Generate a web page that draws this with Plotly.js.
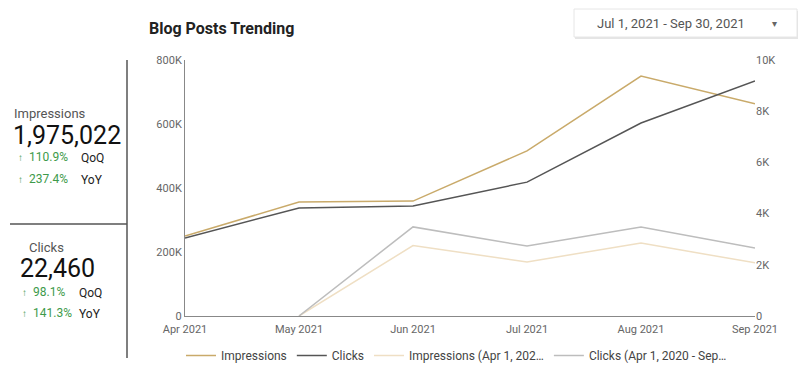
<!DOCTYPE html>
<html>
<head>
<meta charset="utf-8">
<script src="https://cdn.plot.ly/plotly-3.0.1.min.js"></script>
<style>html,body{margin:0;padding:0;background:#fff;}#chart{width:800px;height:379px;}</style>
</head>
<body>
<div id="chart"></div>
<script>
const months = ["Apr 2021", "May 2021", "Jun 2021", "Jul 2021", "Aug 2021", "Sep 2021"];
const impressions = [250000, 356000, 359000, 516000, 750000, 663000];
const clicks = [3050, 4220, 4300, 5230, 7540, 9180];
const impressionsPrev = [null, 0, 220000, 169000, 228000, 166000];
const clicksPrev = [null, 0, 3480, 2730, 3480, 2660];
const seriesNames = ["Impressions", "Clicks", "Impressions (Apr 1, 202…", "Clicks (Apr 1, 2020 - Sep…"];
const leftTicks = [0, 200000, 400000, 600000, 800000];
const leftTickText = ["0", "200K", "400K", "600K", "800K"];
const rightTicks = [0, 2000, 4000, 6000, 8000, 10000];
const rightTickText = ["0", "2K", "4K", "6K", "8K", "10K"];

const W = 800, H = 379;
const M = {l: 185, r: 45, t: 60, b: 63, autoexpand: false};
const PW = W - M.l - M.r, PH = H - M.t - M.b;
const px = x => (x - M.l) / PW;
const py = y => (M.t + PH - y) / PH;

const traces = [
  {x: months, y: impressions, name: seriesNames[0], yaxis: 'y', type: 'scatter', mode: 'lines', line: {color: '#c9aa6a', width: 1.5}},
  {x: months, y: clicks, name: seriesNames[1], yaxis: 'y2', type: 'scatter', mode: 'lines', line: {color: '#555555', width: 1.5}},
  {x: months, y: impressionsPrev, name: seriesNames[2], yaxis: 'y', type: 'scatter', mode: 'lines', line: {color: '#efdfc4', width: 1.5}},
  {x: months, y: clicksPrev, name: seriesNames[3], yaxis: 'y2', type: 'scatter', mode: 'lines', line: {color: '#bdbdbd', width: 1.5}}
];

const grey = '#666';
function ann(x, y, text, size, color, opts) {
  return Object.assign({xref: 'paper', yref: 'paper', x: px(x), y: py(y), text: text, showarrow: false,
    xanchor: 'left', yanchor: 'middle', font: {family: 'Roboto, sans-serif', size: size, color: color}}, opts || {});
}
const green = '#3d9a4a';
const annotations = [
  ann(147, 28, '<b>Blog Posts Trending</b>', 16, '#222'),
  ann(595, 23, 'Jul 1, 2021 - Sep 30, 2021', 13, '#555'),
  ann(774, 23, '▾', 10, '#666', {xanchor: 'center'}),
  ann(12, 113, 'Impressions', 13, '#555'),
  ann(11, 135, '1,975,022', 25, '#111'),
  ann(16, 157, '<b>↑</b>', 10, green),
  ann(27, 157, '110.9%', 12, green),
  ann(79, 158, 'QoQ', 12, '#222'),
  ann(16, 179, '<b>↑</b>', 10, green),
  ann(27, 179, '237.4%', 12, green),
  ann(79, 180, 'YoY', 12, '#222'),
  ann(27, 247, 'Clicks', 13, '#555'),
  ann(18, 268, '22,460', 25, '#111'),
  ann(20, 292, '<b>↑</b>', 10, green),
  ann(31, 292, '98.1%', 12, green),
  ann(77, 293, 'QoQ', 12, '#222'),
  ann(20, 313, '<b>↑</b>', 10, green),
  ann(31, 313, '141.3%', 12, green),
  ann(77, 314, 'YoY', 12, '#222')
];

const shapes = [
  {type: 'line', xref: 'paper', yref: 'paper', x0: px(127), x1: px(127), y0: py(60), y1: py(358), line: {color: '#555', width: 1.5}},
  {type: 'line', xref: 'paper', yref: 'paper', x0: px(10), x1: px(127), y0: py(224), y1: py(224), line: {color: '#555', width: 1.5}},
  {type: 'rect', xref: 'paper', yref: 'paper', x0: px(575), x1: px(798), y0: py(39), y1: py(11), line: {width: 0}, fillcolor: 'rgba(0,0,0,0.10)'},
  {type: 'rect', xref: 'paper', yref: 'paper', x0: px(574), x1: px(797), y0: py(37), y1: py(9), line: {color: '#e6e6e6', width: 1}, fillcolor: '#ffffff'}
];

const layout = {
  width: W, height: H,
  margin: M,
  paper_bgcolor: '#fff', plot_bgcolor: '#fff',
  font: {family: 'Roboto, sans-serif', color: grey, size: 11},
  showlegend: true,
  legend: {orientation: 'h', xref: 'container', yref: 'container', x: 181 / W, xanchor: 'left',
    y: 1 - 341 / H, yanchor: 'top', font: {size: 12, color: '#444'}, traceorder: 'normal',
    itemwidth: 30, tracegroupgap: 0},
  xaxis: {type: 'category', showgrid: false, zeroline: false, showline: true, linecolor: '#888', linewidth: 1,
    ticks: '', ticklabelstandoff: 3, tickfont: {size: 11, color: grey}, range: [0, 5], fixedrange: true},
  yaxis: {range: [0, 800000], tickvals: leftTicks, ticktext: leftTickText, showgrid: false, zeroline: false,
    showline: true, linecolor: '#888', linewidth: 1, ticks: '', tickfont: {size: 11, color: grey}},
  yaxis2: {range: [0, 10000], tickvals: rightTicks, ticktext: rightTickText, overlaying: 'y', side: 'right',
    showgrid: false, zeroline: false, showline: false, ticks: '', tickfont: {size: 11, color: grey}},
  annotations: annotations,
  shapes: shapes
};

Plotly.newPlot('chart', traces, layout, {staticPlot: true});
</script>
</body>
</html>
